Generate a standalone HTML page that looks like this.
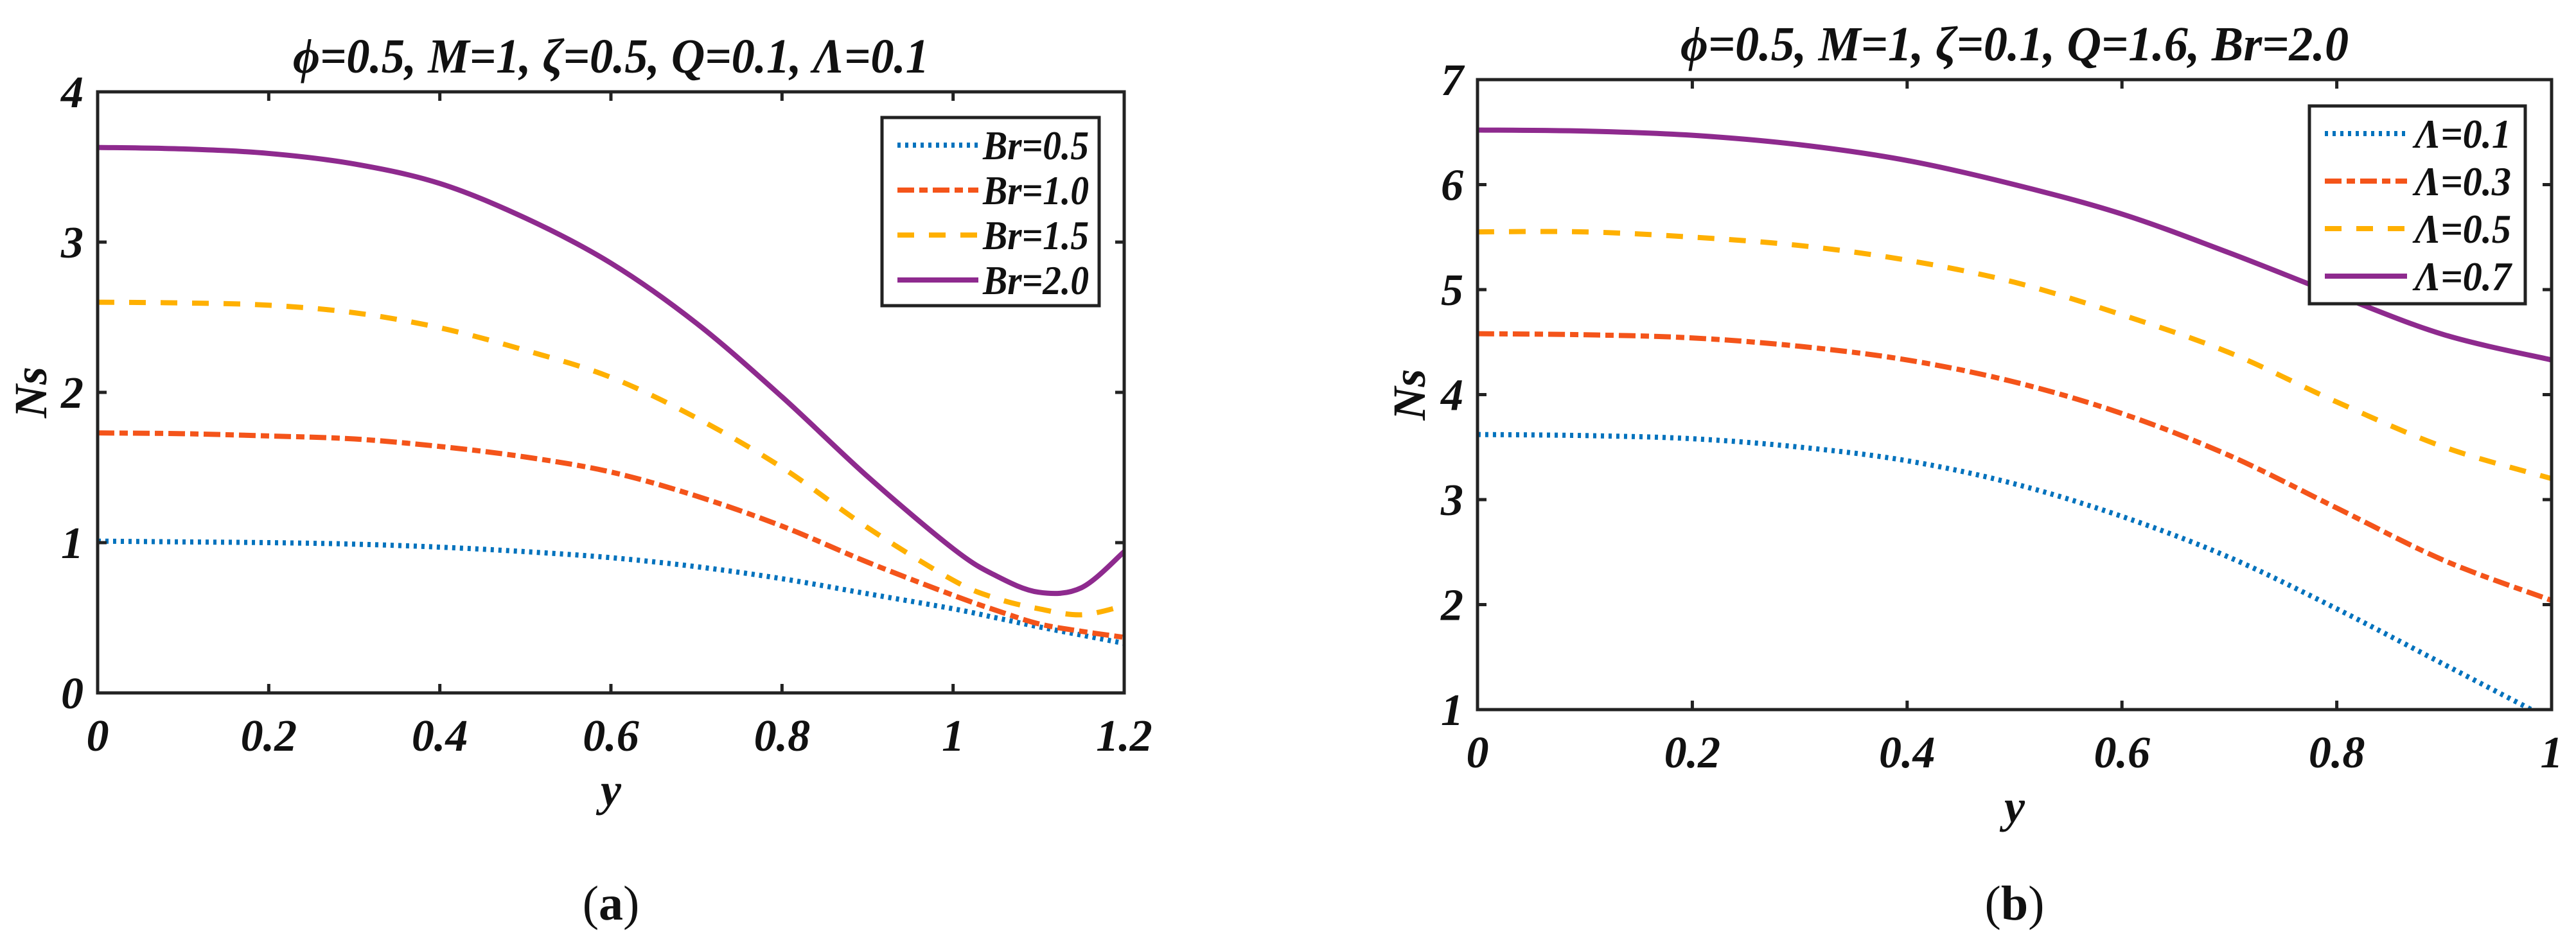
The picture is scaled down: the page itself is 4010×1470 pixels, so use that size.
<!DOCTYPE html>
<html><head><meta charset="utf-8"><style>
html,body{margin:0;padding:0;background:#fff;}
svg text{font-family:"Liberation Serif","Times New Roman",serif;fill:#111;}
</style></head><body>
<svg id="fig" width="4010" height="1465" viewBox="0 0 4010 1465" xmlns="http://www.w3.org/2000/svg" font-family="Liberation Serif, serif"></svg>
<script>
// Panel (a) data
const xA = [0,0.1,0.2,0.3,0.4,0.5,0.6,0.7,0.8,0.9,1.0,1.05,1.1,1.15,1.2];
const aBr05 = [1.01,1.005,1.0,0.99,0.97,0.94,0.9,0.84,0.76,0.66,0.56,0.5,0.44,0.385,0.33];
const aBr10 = [1.73,1.725,1.71,1.69,1.64,1.57,1.47,1.31,1.11,0.87,0.65,0.55,0.46,0.41,0.37];
const aBr15 = [2.6,2.595,2.58,2.53,2.43,2.28,2.1,1.83,1.5,1.1,0.75,0.63,0.56,0.52,0.58];
const aBr20 = [3.63,3.62,3.59,3.52,3.39,3.16,2.86,2.46,1.97,1.44,0.96,0.78,0.67,0.7,0.94];
const aXTicks = [0,0.2,0.4,0.6,0.8,1,1.2];
const aXTickLabels = ["0","0.2","0.4","0.6","0.8","1","1.2"];
const aYTicks = [0,1,2,3,4];
const aLegend = ["Br=0.5","Br=1.0","Br=1.5","Br=2.0"];
// Panel (b) data
const xB = [0,0.1,0.2,0.3,0.4,0.5,0.6,0.7,0.8,0.9,1.0];
const bL01 = [3.62,3.61,3.58,3.5,3.37,3.15,2.84,2.45,1.96,1.43,0.9];
const bL03 = [4.58,4.57,4.54,4.46,4.33,4.12,3.82,3.42,2.92,2.42,2.04];
const bL05 = [5.55,5.55,5.5,5.42,5.28,5.07,4.76,4.4,3.93,3.5,3.2];
const bL07 = [6.52,6.51,6.47,6.38,6.23,6.0,5.72,5.35,4.95,4.57,4.33];
const bXTicks = [0,0.2,0.4,0.6,0.8,1];
const bXTickLabels = ["0","0.2","0.4","0.6","0.8","1"];
const bYTicks = [1,2,3,4,5,6,7];
const bLegend = ["\u039B=0.1","\u039B=0.3","\u039B=0.5","\u039B=0.7"];

const NS="http://www.w3.org/2000/svg";
const svg=document.getElementById('fig');
const FF='Liberation Serif, Times New Roman, serif';
const styles=[
 {c:'#0072BD',d:'5 7'},
 {c:'#F4541A',d:'26 8 13 8'},
 {c:'#FFB000',d:'26 23'},
 {c:'#8E2A8E',d:''}
];
function mk(tag,attrs,parent){const e=document.createElementNS(NS,tag);for(const k in attrs)e.setAttribute(k,attrs[k]);if(tag==='text')e.setAttribute('font-family',FF);(parent||svg).appendChild(e);return e;}
function smooth(pts){let d='M'+pts[0][0]+','+pts[0][1];for(let i=0;i<pts.length-1;i++){const p0=pts[i-1]||pts[i],p1=pts[i],p2=pts[i+1],p3=pts[i+2]||p2;const c1=[p1[0]+(p2[0]-p0[0])/6,p1[1]+(p2[1]-p0[1])/6],c2=[p2[0]-(p3[0]-p1[0])/6,p2[1]-(p3[1]-p1[1])/6];d+=' C'+c1[0]+','+c1[1]+' '+c2[0]+','+c2[1]+' '+p2[0]+','+p2[1];}return d;}

function panel(o){
 const g=mk('g',{});
 
 
 const X=v=>o.L+(v-o.x0)/(o.x1-o.x0)*(o.R-o.L);
 const Y=v=>o.B-(v-o.y0)/(o.y1-o.y0)*(o.B-o.T);
 const cid='clip'+o.name;
 const cp=mk('clipPath',{id:cid},g);mk('rect',{x:o.L,y:o.T,width:o.R-o.L,height:o.B-o.T},cp);
 o.series.forEach((s,i)=>{
  const p=mk('path',{d:smooth(o.xs.map((x,j)=>[X(x),Y(s[j])])),fill:'none',stroke:styles[i].c,'stroke-width':8,'stroke-dasharray':styles[i].d,'clip-path':'url(#'+cid+')'},g);
  
  
 });
 o.xt.forEach((t,i)=>{
  mk('line',{x1:X(t),x2:X(t),y1:o.B,y2:o.B-14,stroke:'#222','stroke-width':5},g);
  mk('line',{x1:X(t),x2:X(t),y1:o.T,y2:o.T+14,stroke:'#222','stroke-width':5},g);
  const tx=mk('text',{x:X(t),y:o.B+90,'text-anchor':'middle','font-size':70,'font-style':'italic','font-weight':'bold'},g);
  tx.textContent=o.xtl[i];
  
  
 });
 o.yt.forEach(t=>{
  mk('line',{x1:o.L,x2:o.L+14,y1:Y(t),y2:Y(t),stroke:'#222','stroke-width':5},g);
  mk('line',{x1:o.R,x2:o.R-14,y1:Y(t),y2:Y(t),stroke:'#222','stroke-width':5},g);
  const ty=mk('text',{x:o.L-22,y:Y(t)+24,'text-anchor':'end','font-size':70,'font-style':'italic','font-weight':'bold'},g);
  ty.textContent=String(t);
  
  
 });
 const box=mk('rect',{x:o.L,y:o.T,width:o.R-o.L,height:o.B-o.T,fill:'none',stroke:'#222','stroke-width':5},g);
 
 
 const lg=mk('g',{},g);
 
 
 mk('rect',{x:o.lg.x,y:o.lg.y,width:o.lg.w,height:o.lg.h,fill:'#fff',stroke:'#222','stroke-width':5},lg);
 o.legend.forEach((l,i)=>{
  const yy=o.lg.y+43+i*o.lg.dy;
  mk('line',{x1:o.lg.x+24,x2:o.lg.x+24+o.lg.sw,y1:yy,y2:yy,stroke:styles[i].c,'stroke-width':8,'stroke-dasharray':styles[i].d},lg);
  const t=mk('text',{x:o.lg.x+o.lg.tx,y:yy+22,'font-size':64,'font-style':'italic','font-weight':'bold',textLength:o.lg.tl,lengthAdjust:'spacingAndGlyphs'},lg);
  t.textContent=l;
  
  
 });
 const ti=mk('text',{x:(o.L+o.R)/2,y:o.T-30,'text-anchor':'middle','font-size':76,'font-style':'italic','font-weight':'bold',textLength:o.titleLen,lengthAdjust:'spacingAndGlyphs'},g);
 ti.textContent=o.title;
 
 
 const yl=mk('text',{x:0,y:0,'text-anchor':'middle','font-size':72,'font-style':'italic','font-weight':'bold',transform:'translate('+o.ylx+','+((o.T+o.B)/2)+') rotate(-90)'},g);
 yl.textContent='Ns';
 
 
 const xl=mk('text',{x:(o.L+o.R)/2,y:o.B+175,'text-anchor':'middle','font-size':72,'font-style':'italic','font-weight':'bold'},g);
 xl.textContent='y';
 
 
 const cap=mk('text',{x:(o.L+o.R)/2,y:1432,'text-anchor':'middle','font-size':76},g);
 cap.innerHTML='(<tspan font-weight="bold">'+o.cap+'</tspan>)';
 
 
}
panel({name:'panel-a',L:152,R:1750,T:143,B:1079,x0:0,x1:1.2,y0:0,y1:4,xs:xA,series:[aBr05,aBr10,aBr15,aBr20],xt:aXTicks,xtl:aXTickLabels,yt:aYTicks,legend:aLegend,
 lg:{x:1373,y:183,w:338,h:293,dy:70,sw:126,tx:157,tl:165},title:'\u03D5=0.5, M=1, \u03B6=0.5, Q=0.1,  \u039B=0.1',titleLen:990,ylx:72,cap:'a'});
panel({name:'panel-b',L:2300,R:3972,T:124,B:1105,x0:0,x1:1,y0:1,y1:7,xs:xB,series:[bL01,bL03,bL05,bL07],xt:bXTicks,xtl:bXTickLabels,yt:bYTicks,legend:bLegend,
 lg:{x:3595,y:165,w:336,h:308,dy:74,sw:128,tx:164,tl:150},title:'\u03D5=0.5, M=1, \u03B6=0.1, Q=1.6, Br=2.0',titleLen:1040,ylx:2218,cap:'b'});
</script>
</body></html>
